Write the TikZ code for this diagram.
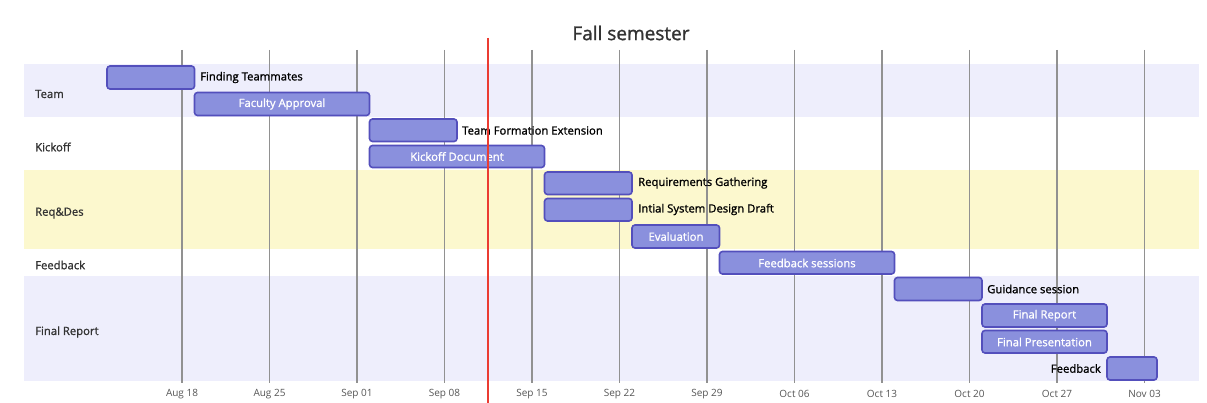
\documentclass[tikz,border=0pt]{standalone}
\usepackage{fontspec}
\setmainfont{Open Sans}
\newfontfamily\labfont{Open Sans}[FakeBold=1.2]
\definecolor{bandA}{RGB}{238,238,252}
\definecolor{bandY}{RGB}{252,248,206}
\definecolor{gridc}{RGB}{145,145,145}
\definecolor{barfill}{RGB}{138,144,221}
\definecolor{barline}{RGB}{83,79,188}
\definecolor{todayc}{RGB}{235,60,50}
\definecolor{seclab}{RGB}{51,51,51}
\definecolor{axlab}{RGB}{85,85,85}
\tikzset{
  band/.style={draw=none},
  gridline/.style={draw=gridc, line width=1.2pt},
  bar/.style={draw=barline, fill=barfill, line width=1.6pt, rounded corners=3pt},
  intext/.style={text=white, font=\labfont\fontsize{11.3}{13}\selectfont, inner sep=0pt},
  outtext/.style={text=black, font=\labfont\fontsize{11.3}{13}\selectfont, inner sep=0pt},
  secname/.style={text=seclab, font=\labfont\fontsize{11.3}{13}\selectfont, inner sep=0pt, anchor=west},
  axname/.style={text=axlab, font=\fontsize{10}{12}\selectfont, inner sep=0pt},
  today/.style={draw=todayc, line width=2pt},
  titletext/.style={text=seclab, font=\labfont\fontsize{19}{22}\selectfont, inner sep=0pt}
}
\begin{document}
\begin{tikzpicture}[x=1pt,y=-1pt]
\useasboundingbox (0,0) rectangle (1207,403);
\fill[white] (0,0) rectangle (1207,403);
% section bands
\fill[bandA] (24,64) rectangle (1199,117);
\fill[white] (24,117) rectangle (1199,170);
\fill[bandY] (24,170) rectangle (1199,249);
\fill[white] (24,249) rectangle (1199,276);
\fill[bandA] (24,276) rectangle (1199,381);
% title
\node[titletext] (title) at (631,33) {Fall semester};
% grid lines and axis labels
\foreach \x/\lab [count=\i] in {182/Aug 18,269.5/Aug 25,357/Sep 01,444.5/Sep 08,532/Sep 15,619.5/Sep 22,707/Sep 29,794.5/Oct 06,882/Oct 13,969.5/Oct 20,1057/Oct 27,1144.5/Nov 03}{
  \coordinate (gt\i) at (\x,50);
  \coordinate (gb\i) at (\x,383);
  \draw[gridline] (gt\i) -- (gb\i);
  \node[axname] (ax\i) at (\x,394) {\lab};
}
% section labels
\node[secname] (sTeam) at (35,94) {Team};
\node[secname] (sKick) at (35,147) {Kickoff};
\node[secname] (sReq) at (35,213) {Req\&Des};
\node[secname] (sFb) at (35,265) {Feedback};
\node[secname] (sFinal) at (35,332) {Final Report};
% bars
\draw[bar] (107,66) rectangle (194.5,89);
\node[outtext, anchor=west] (t1) at (200,77.5) {Finding Teammates};
\draw[bar] (194.5,92.5) rectangle (369.5,115.5);
\node[intext] (t2) at (282,104) {Faculty Approval};
\draw[bar] (369.5,119) rectangle (457,141.5);
\node[outtext, anchor=west] (t3) at (462,130.5) {Team Formation Extension};
\draw[bar] (369.5,145.5) rectangle (544.5,167.5);
\node[intext] (t4) at (457,156.5) {Kickoff Document};
\draw[bar] (544.5,172) rectangle (632,194.5);
\node[outtext, anchor=west] (t5) at (638,183) {Requirements Gathering};
\draw[bar] (544.5,198.5) rectangle (632,221);
\node[outtext, anchor=west] (t6) at (638,209.5) {Intial System Design Draft};
\draw[bar] (632,225) rectangle (719.5,248);
\node[intext] (t7) at (676,236.5) {Evaluation};
\draw[bar] (719.5,251.5) rectangle (894.5,274);
\node[intext] (t8) at (807,263) {Feedback sessions};
\draw[bar] (894.5,277.5) rectangle (982,300.5);
\node[outtext, anchor=west] (t9) at (987,289) {Guidance session};
\draw[bar] (982,304) rectangle (1107,327);
\node[intext] (t10) at (1044.5,315.5) {Final Report};
\draw[bar] (982,330.5) rectangle (1107,353);
\node[intext] (t11) at (1044.5,342) {Final Presentation};
\draw[bar] (1107,357) rectangle (1157,380);
\node[outtext, anchor=east] (t12) at (1101,368.5) {Feedback};
% today line
\coordinate (tdt) at (488,38);
\coordinate (tdb) at (488,403);
\draw[today] (tdt) -- (tdb);
\end{tikzpicture}
\end{document}
